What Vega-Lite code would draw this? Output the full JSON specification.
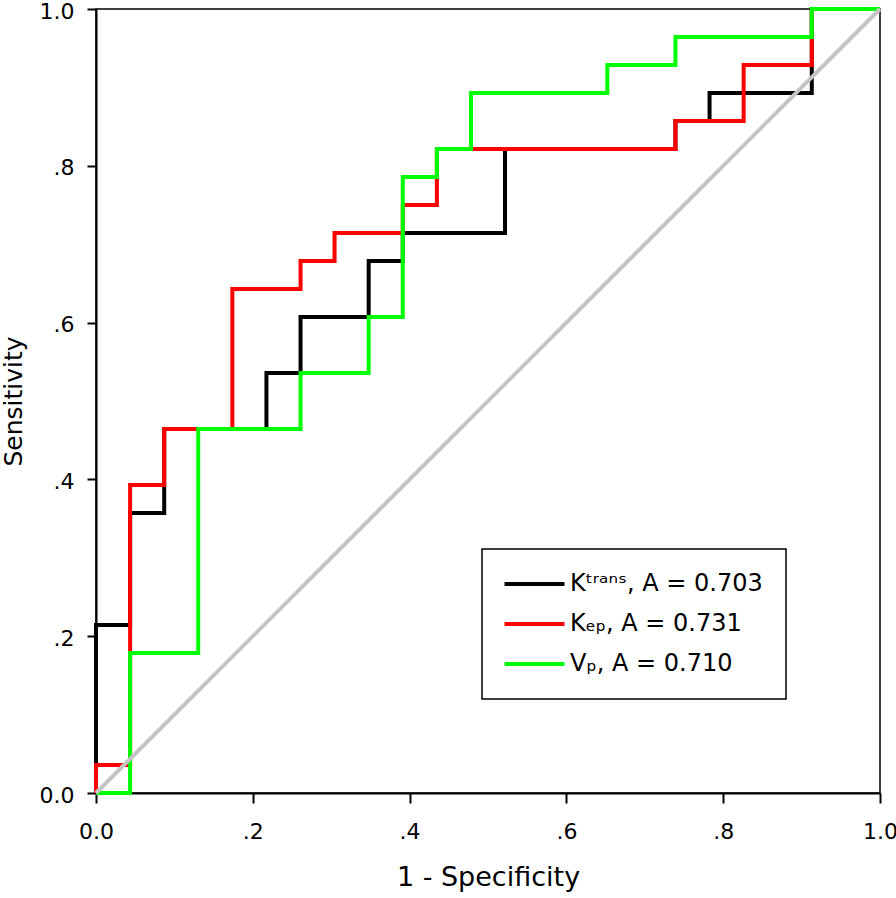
{
  "$schema": "https://vega.github.io/schema/vega-lite/v6.json",
  "width": 784,
  "height": 784,
  "autosize": "none",
  "padding": {"left": 96, "top": 9, "right": 16, "bottom": 105},
  "background": "white",
  "datasets": {
    "curves": [
      {"series": "Ktrans", "step": 1, "fpr": 0, "tpr": 0},
      {"series": "Ktrans", "step": 2, "fpr": 0, "tpr": 0.2143},
      {"series": "Ktrans", "step": 3, "fpr": 0.0435, "tpr": 0.2143},
      {"series": "Ktrans", "step": 4, "fpr": 0.0435, "tpr": 0.3571},
      {"series": "Ktrans", "step": 5, "fpr": 0.087, "tpr": 0.3571},
      {"series": "Ktrans", "step": 6, "fpr": 0.087, "tpr": 0.4643},
      {"series": "Ktrans", "step": 7, "fpr": 0.2174, "tpr": 0.4643},
      {"series": "Ktrans", "step": 8, "fpr": 0.2174, "tpr": 0.5357},
      {"series": "Ktrans", "step": 9, "fpr": 0.2609, "tpr": 0.5357},
      {"series": "Ktrans", "step": 10, "fpr": 0.2609, "tpr": 0.6071},
      {"series": "Ktrans", "step": 11, "fpr": 0.3478, "tpr": 0.6071},
      {"series": "Ktrans", "step": 12, "fpr": 0.3478, "tpr": 0.6786},
      {"series": "Ktrans", "step": 13, "fpr": 0.3913, "tpr": 0.6786},
      {"series": "Ktrans", "step": 14, "fpr": 0.3913, "tpr": 0.7143},
      {"series": "Ktrans", "step": 15, "fpr": 0.5217, "tpr": 0.7143},
      {"series": "Ktrans", "step": 16, "fpr": 0.5217, "tpr": 0.8214},
      {"series": "Ktrans", "step": 17, "fpr": 0.7391, "tpr": 0.8214},
      {"series": "Ktrans", "step": 18, "fpr": 0.7391, "tpr": 0.8571},
      {"series": "Ktrans", "step": 19, "fpr": 0.7826, "tpr": 0.8571},
      {"series": "Ktrans", "step": 20, "fpr": 0.7826, "tpr": 0.8929},
      {"series": "Ktrans", "step": 21, "fpr": 0.913, "tpr": 0.8929},
      {"series": "Ktrans", "step": 22, "fpr": 0.913, "tpr": 1},
      {"series": "Ktrans", "step": 23, "fpr": 1, "tpr": 1},
      {"series": "Kep", "step": 1, "fpr": 0, "tpr": 0},
      {"series": "Kep", "step": 2, "fpr": 0, "tpr": 0.0357},
      {"series": "Kep", "step": 3, "fpr": 0.0435, "tpr": 0.0357},
      {"series": "Kep", "step": 4, "fpr": 0.0435, "tpr": 0.3929},
      {"series": "Kep", "step": 5, "fpr": 0.087, "tpr": 0.3929},
      {"series": "Kep", "step": 6, "fpr": 0.087, "tpr": 0.4643},
      {"series": "Kep", "step": 7, "fpr": 0.1739, "tpr": 0.4643},
      {"series": "Kep", "step": 8, "fpr": 0.1739, "tpr": 0.6429},
      {"series": "Kep", "step": 9, "fpr": 0.2609, "tpr": 0.6429},
      {"series": "Kep", "step": 10, "fpr": 0.2609, "tpr": 0.6786},
      {"series": "Kep", "step": 11, "fpr": 0.3043, "tpr": 0.6786},
      {"series": "Kep", "step": 12, "fpr": 0.3043, "tpr": 0.7143},
      {"series": "Kep", "step": 13, "fpr": 0.3913, "tpr": 0.7143},
      {"series": "Kep", "step": 14, "fpr": 0.3913, "tpr": 0.75},
      {"series": "Kep", "step": 15, "fpr": 0.4348, "tpr": 0.75},
      {"series": "Kep", "step": 16, "fpr": 0.4348, "tpr": 0.8214},
      {"series": "Kep", "step": 17, "fpr": 0.7391, "tpr": 0.8214},
      {"series": "Kep", "step": 18, "fpr": 0.7391, "tpr": 0.8571},
      {"series": "Kep", "step": 19, "fpr": 0.8261, "tpr": 0.8571},
      {"series": "Kep", "step": 20, "fpr": 0.8261, "tpr": 0.9286},
      {"series": "Kep", "step": 21, "fpr": 0.913, "tpr": 0.9286},
      {"series": "Kep", "step": 22, "fpr": 0.913, "tpr": 1},
      {"series": "Kep", "step": 23, "fpr": 1, "tpr": 1},
      {"series": "Vp", "step": 1, "fpr": 0, "tpr": 0},
      {"series": "Vp", "step": 2, "fpr": 0.0435, "tpr": 0},
      {"series": "Vp", "step": 3, "fpr": 0.0435, "tpr": 0.1786},
      {"series": "Vp", "step": 4, "fpr": 0.1304, "tpr": 0.1786},
      {"series": "Vp", "step": 5, "fpr": 0.1304, "tpr": 0.4643},
      {"series": "Vp", "step": 6, "fpr": 0.2609, "tpr": 0.4643},
      {"series": "Vp", "step": 7, "fpr": 0.2609, "tpr": 0.5357},
      {"series": "Vp", "step": 8, "fpr": 0.3478, "tpr": 0.5357},
      {"series": "Vp", "step": 9, "fpr": 0.3478, "tpr": 0.6071},
      {"series": "Vp", "step": 10, "fpr": 0.3913, "tpr": 0.6071},
      {"series": "Vp", "step": 11, "fpr": 0.3913, "tpr": 0.7857},
      {"series": "Vp", "step": 12, "fpr": 0.4348, "tpr": 0.7857},
      {"series": "Vp", "step": 13, "fpr": 0.4348, "tpr": 0.8214},
      {"series": "Vp", "step": 14, "fpr": 0.4783, "tpr": 0.8214},
      {"series": "Vp", "step": 15, "fpr": 0.4783, "tpr": 0.8929},
      {"series": "Vp", "step": 16, "fpr": 0.6522, "tpr": 0.8929},
      {"series": "Vp", "step": 17, "fpr": 0.6522, "tpr": 0.9286},
      {"series": "Vp", "step": 18, "fpr": 0.7391, "tpr": 0.9286},
      {"series": "Vp", "step": 19, "fpr": 0.7391, "tpr": 0.9643},
      {"series": "Vp", "step": 20, "fpr": 0.913, "tpr": 0.9643},
      {"series": "Vp", "step": 21, "fpr": 0.913, "tpr": 1},
      {"series": "Vp", "step": 22, "fpr": 1, "tpr": 1}
    ],
    "diag": [
      {"fpr": 0, "tpr": 0},
      {"fpr": 1, "tpr": 1}
    ]
  },
  "layer": [
    {
      "data": {"name": "curves"},
      "mark": {"type": "line", "strokeWidth": 4, "strokeJoin": "miter", "clip": false},
      "encoding": {
        "x": {
          "field": "fpr", "type": "quantitative",
          "scale": {"domain": [0, 1], "nice": false, "zero": false},
          "axis": {
            "title": "1 - Specificity",
            "values": [0, 0.2, 0.4, 0.6, 0.8, 1],
            "labelExpr": "datum.value == 0 ? '0.0' : datum.value == 1 ? '1.0' : replace(format(datum.value, '.1f'), '0.', '.')",
            "tickSize": 10,
            "labelPadding": 18,
            "titlePadding": 22,
            "titleFontSize": 27,
            "labelFlush": false,
            "labelOverlap": false
          }
        },
        "y": {
          "field": "tpr", "type": "quantitative",
          "scale": {"domain": [0, 1], "nice": false, "zero": false},
          "axis": {
            "title": "Sensitivity",
            "values": [0, 0.2, 0.4, 0.6, 0.8, 1],
            "labelExpr": "datum.value == 0 ? '0.0' : datum.value == 1 ? '1.0' : replace(format(datum.value, '.1f'), '0.', '.')",
            "tickSize": 9,
            "labelPadding": 13,
            "labelOffset": 2,
            "titlePadding": 13,
            "titleFontSize": 25,
            "labelFlush": false,
            "labelOverlap": false
          }
        },
        "order": {"field": "step", "type": "quantitative"},
        "color": {
          "field": "series", "type": "nominal",
          "scale": {"domain": ["Ktrans", "Kep", "Vp"], "range": ["#000000", "#ff0000", "#00ff00"]},
          "legend": {
            "title": null,
            "orient": "none",
            "legendX": 386,
            "legendY": 540,
            "direction": "vertical",
            "padding": 23,
            "strokeColor": "#000000",
            "fillColor": "white",
            "symbolType": "M-1.25,0H4.75",
            "symbolSize": 400,
            "symbolStrokeWidth": 4,
            "labelFont": "DejaVu Sans",
            "labelFontSize": 24,
            "labelColor": "#000000",
            "labelOffset": 41,
            "labelLimit": 600,
            "rowPadding": 16,
            "labelExpr": "datum.label == 'Ktrans' ? 'Kᵗʳᵃⁿˢ, A = 0.703' : datum.label == 'Kep' ? 'Kₑₚ, A = 0.731' : 'Vₚ, A = 0.710'",
            "encode": {"legend": {"update": {"strokeWidth": {"value": 1.5}}}}
          }
        }
      }
    },
    {
      "data": {"name": "diag"},
      "mark": {"type": "line", "strokeWidth": 4, "color": "#c4c4c4", "clip": false},
      "encoding": {
        "x": {"field": "fpr", "type": "quantitative"},
        "y": {"field": "tpr", "type": "quantitative"}
      }
    }
  ],
  "config": {
    "font": "DejaVu Sans",
    "view": {"stroke": "#000000", "strokeWidth": 1.5},
    "axis": {
      "grid": false,
      "domainColor": "#000000",
      "domainWidth": 2,
      "tickColor": "#000000",
      "tickWidth": 2,
      "labelColor": "#000000",
      "titleColor": "#000000",
      "labelFont": "DejaVu Sans",
      "titleFont": "DejaVu Sans",
      "labelFontSize": 22,
      "titleFontWeight": "normal"
    }
  }
}
